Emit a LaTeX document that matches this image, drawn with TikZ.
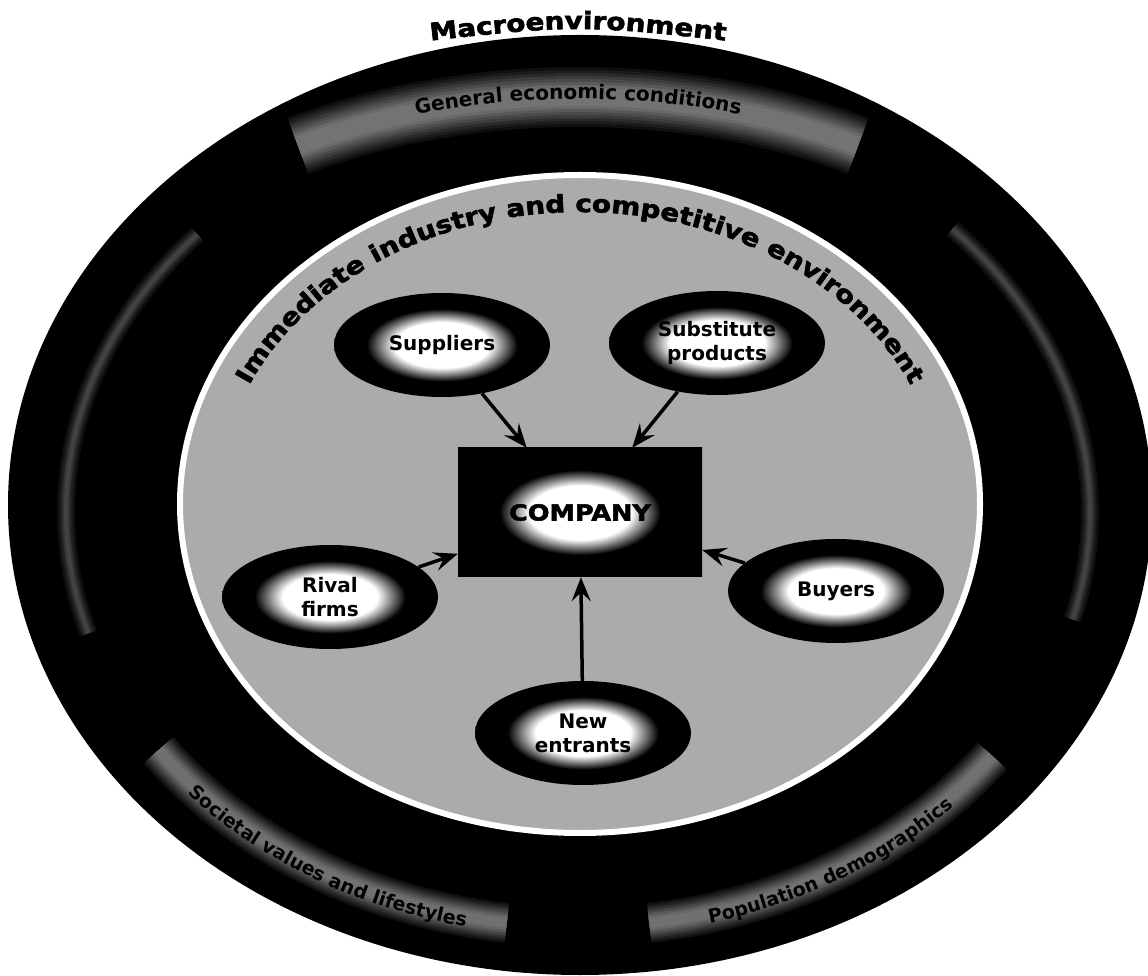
\documentclass[tikz,border=0pt]{standalone}
\usepackage{fontspec}
\setmainfont{DejaVu Sans}
\newfontfamily\dvsheavy{DejaVu Sans Bold}[FakeStretch=1.16,FakeBold=2.5]
\newcommand\heavyface{\dvsheavy}
\usetikzlibrary{shapes.geometric,arrows.meta,decorations.text}
\pgfdeclareradialshading{ovalglow}{\pgfpoint{0bp}{0bp}}{color(0bp)=(white); color(11bp)=(white); color(17.5bp)=(black); color(50bp)=(black)}
\pgfdeclareradialshading{boxglow}{\pgfpoint{0bp}{0bp}}{color(0bp)=(white); color(10.5bp)=(white); color(16.5bp)=(black); color(50bp)=(black)}
\begin{document}
\begin{tikzpicture}[x=1pt,y=1pt,
  nodetext/.style={font=\bfseries\fontsize{20}{24}\selectfont, text=black, align=center},
  oval/.style={ellipse, minimum width=216pt, minimum height=104pt, inner sep=0pt, shade, shading=ovalglow, nodetext},
  companybox/.style={rectangle, minimum width=244pt, minimum height=129pt, inner sep=0pt, shade, shading=boxglow,
    font=\heavyface\fontsize{22}{24}\selectfont, text=black},
  arr/.style={-{Stealth[length=24pt,width=19pt,inset=9pt]}, line width=3.5pt, draw=black},
  bandlabel/.style={decorate, decoration={text along path, text align=center, text={#1}}},
]
\useasboundingbox (0,0) rectangle (1148,975);
\fill[white] (0,0) rectangle (1148,975);

% outer black ring
\fill[black] (580,470) ellipse[x radius=572, y radius=470];

% top band (General economic conditions), soft edges
\foreach \w/\c in {60/94,54/89,48/83,42/77,36/71,30/65,24/59,18/55}
  \draw[line width=\w pt, draw=black!\c] (578,514) ++(120:560 and 364) arc[start angle=120, end angle=60, x radius=560, y radius=364];
% bottom-left and bottom-right bands
\foreach \w/\c in {40/93,35/87,30/80,25/73,20/66,15/60,10/56} {
  \draw[line width=\w pt, draw=black!\c] (578,463) ++(215:512 and 415) arc[start angle=215, end angle=262, x radius=512, y radius=415];
  \draw[line width=\w pt, draw=black!\c] (578,463) ++(278:512 and 415) arc[start angle=278, end angle=324, x radius=512, y radius=415];
}
% faint left and right bands
\foreach \w/\c in {18/94,13/88,8/80,4/74} {
  \draw[line width=\w pt, draw=black!\c] (578,463) ++(138:512 and 415) arc[start angle=138, end angle=197, x radius=512, y radius=415];
  \draw[line width=\w pt, draw=black!\c] (578,463) ++(43:512 and 415) arc[start angle=43, end angle=-15, x radius=512, y radius=415];
}

% band labels
\path[bandlabel={|\bfseries\fontsize{20}{24}\selectfont|General economic conditions}]
  (578,514) ++(122:558 and 362) arc[start angle=122, end angle=58, x radius=558, y radius=362];
\path[bandlabel={|\bfseries\fontsize{19}{24}\selectfont|Societal values and lifestyles}]
  (578,463) ++(212:522 and 425) arc[start angle=212, end angle=266, x radius=522, y radius=425];
\path[bandlabel={|\bfseries\fontsize{19}{24}\selectfont|Population demographics}]
  (578,463) ++(274:522 and 425) arc[start angle=274, end angle=328, x radius=522, y radius=425];

% title
\path[bandlabel={|\heavyface\fontsize{24}{28}\selectfont|Macroenvironment}]
  (400,931) .. controls (578,951) .. (756,931);

% inner disc with white rim
\draw[white, line width=6pt, fill=black!33] (580,471) ellipse[x radius=400, y radius=329];
\path[bandlabel={|\heavyface\fontsize{24}{26}\selectfont|Immediate industry and competitive environment}]
  (580,471) ++(178:362 and 292) arc[start angle=178, end angle=2, x radius=362, y radius=292];

% nodes
\node[companybox] (comp) at (580,462.5) {COMPANY};
\node[oval] (sup) at (442,630) {Suppliers};
\node[oval] (sub) at (717,632) {Substitute\\products};
\node[oval] (riv) at (330,378) {Rival\\firms};
\node[oval] (buy) at (836,384) {Buyers};
\node[oval] (new) at (583,242) {New\\entrants};

% connectors
\draw[arr] (sup) -- (comp);
\draw[arr] (sub) -- (comp);
\draw[arr] (riv) -- (comp);
\draw[arr] (buy) -- (comp);
\draw[arr] (new) -- (comp);
\end{tikzpicture}
\end{document}
